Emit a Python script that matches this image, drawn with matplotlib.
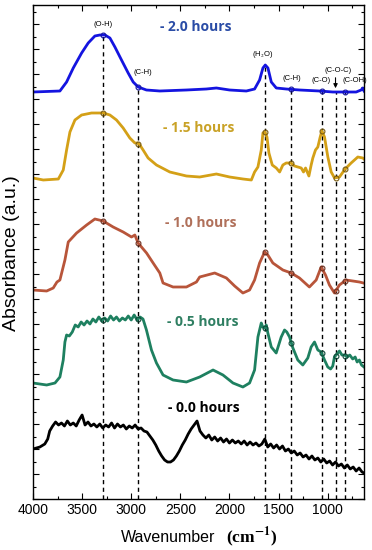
from __future__ import annotations

import matplotlib

matplotlib.use("Agg")
import matplotlib.pyplot as plt
import numpy as np
from matplotlib.ticker import MultipleLocator, NullFormatter

plt.rcParams["font.family"] = ["Liberation Sans", "DejaVu Sans"]
plt.rcParams["mathtext.fontset"] = "stix"

# ---- data (wavenumber in cm^-1, absorbance in arbitrary units, stacked) ----
blue_wn = [4000, 3726, 3658, 3590, 3505, 3438, 3370, 3319, 3268, 3217, 3166, 3099,
           3031, 2980, 2929, 2845, 2709, 2438, 2235, 2133, 1998, 1828, 1744, 1693,
           1659, 1635, 1608, 1574, 1523, 1422, 1286, 1083, 947, 812, 710, 659, 642, 630]
blue_abs = [4.07, 4.08, 4.17, 4.31, 4.46, 4.56, 4.63, 4.64, 4.64, 4.61, 4.52, 4.39,
            4.26, 4.17, 4.12, 4.09, 4.08, 4.09, 4.10, 4.11, 4.09, 4.08, 4.10, 4.19,
            4.31, 4.34, 4.31, 4.17, 4.11, 4.10, 4.09, 4.08, 4.07, 4.07, 4.07, 4.09, 4.11, 4.08]

orange_wn = [4000, 3895, 3742, 3692, 3658, 3624, 3573, 3505, 3404, 3285, 3217, 3150,
             3082, 3014, 2963, 2936, 2912, 2879, 2828, 2743, 2607, 2438, 2303, 2133,
             1998, 1862, 1777, 1744, 1710, 1676, 1659, 1638, 1618, 1598, 1564, 1523,
             1489, 1456, 1422, 1374, 1337, 1303, 1269, 1246, 1225, 1191, 1168, 1151,
             1124, 1100, 1076, 1059, 1032, 998, 964, 930, 880, 822, 761, 693, 642, 630]
orange_abs = [3.21, 3.19, 3.20, 3.29, 3.49, 3.67, 3.79, 3.84, 3.86, 3.86, 3.84, 3.79,
              3.71, 3.61, 3.56, 3.56, 3.54, 3.49, 3.41, 3.34, 3.27, 3.23, 3.22, 3.25,
              3.22, 3.20, 3.19, 3.27, 3.32, 3.49, 3.66, 3.67, 3.62, 3.46, 3.34, 3.31,
              3.27, 3.34, 3.36, 3.36, 3.33, 3.32, 3.31, 3.27, 3.31, 3.23, 3.34, 3.41,
              3.49, 3.52, 3.62, 3.68, 3.62, 3.42, 3.27, 3.21, 3.22, 3.30, 3.36, 3.42, 3.41, 3.40]

red_wn = [4000, 3861, 3794, 3756, 3726, 3675, 3641, 3556, 3454, 3370, 3286, 3184,
          3082, 2997, 2963, 2930, 2844, 2777, 2709, 2676, 2574, 2438, 2336, 2303,
          2150, 2031, 1947, 1863, 1795, 1744, 1693, 1642, 1609, 1558, 1456, 1371,
          1287, 1186, 1117, 1066, 1022, 982, 931, 880, 812, 677, 636]
red_abs = [2.09, 2.08, 2.11, 2.17, 2.19, 2.39, 2.57, 2.66, 2.74, 2.80, 2.78, 2.72,
           2.67, 2.62, 2.64, 2.56, 2.46, 2.36, 2.26, 2.16, 2.12, 2.12, 2.17, 2.22,
           2.26, 2.21, 2.13, 2.06, 2.09, 2.19, 2.36, 2.47, 2.44, 2.36, 2.29, 2.26,
           2.21, 2.12, 2.19, 2.32, 2.24, 2.14, 2.06, 2.14, 2.19, 2.17, 2.16]

green_wn = [4000, 3861, 3776, 3726, 3692, 3675, 3658, 3630,
            3600, 3570, 3540, 3510, 3480, 3450, 3420, 3390, 3360, 3330, 3300, 3270,
            3240, 3210, 3180, 3150, 3120, 3090, 3060, 3030, 3000, 2970, 2940, 2910, 2880,
            2845, 2794, 2743, 2676, 2574, 2438, 2303, 2167, 2066, 1964, 1863, 1795,
            1744, 1710, 1676, 1660, 1642, 1625, 1609, 1574, 1524, 1473, 1439, 1416,
            1388, 1354, 1304, 1253, 1202, 1168, 1134, 1100, 1066, 1032,
            999, 970, 948, 931, 905, 880, 855, 829, 800, 775, 745, 720, 700, 677, 655, 630]
green_abs = [1.16, 1.14, 1.16, 1.22, 1.39, 1.57, 1.64, 1.63,
             1.67, 1.74, 1.72, 1.77, 1.74, 1.78, 1.75, 1.80, 1.77, 1.82, 1.78, 1.81,
             1.78, 1.83, 1.79, 1.82, 1.78, 1.81, 1.79, 1.83, 1.79, 1.84, 1.79, 1.82, 1.80,
             1.69, 1.49, 1.36, 1.24, 1.19, 1.17, 1.22, 1.29, 1.24, 1.16, 1.12, 1.16,
             1.29, 1.62, 1.76, 1.72, 1.71, 1.74, 1.66, 1.52, 1.46, 1.62, 1.69, 1.67,
             1.62, 1.51, 1.39, 1.34, 1.41, 1.52, 1.57, 1.49, 1.47, 1.39,
             1.32, 1.30, 1.33, 1.42, 1.45, 1.48, 1.44, 1.44, 1.42, 1.44, 1.40, 1.42, 1.37, 1.39, 1.34, 1.32]

black_wn_start = [4000, 3930, 3880, 3850, 3830]
black_abs_start = [0.50, 0.52, 0.55, 0.60, 0.68]
black_wn_grid = np.arange(3800, 620, -30)  # 3800 ... 650
black_abs_grid = [
    0.73, 0.77, 0.74, 0.76, 0.73, 0.78, 0.74, 0.76, 0.73, 0.79,
    0.84, 0.74, 0.77, 0.73, 0.75, 0.72, 0.75, 0.71, 0.74, 0.72,
    0.76, 0.71, 0.75, 0.72, 0.74, 0.70, 0.73, 0.71, 0.74, 0.70,
    0.71, 0.68, 0.67, 0.63, 0.59, 0.54, 0.48, 0.43, 0.39, 0.37,
    0.37, 0.39, 0.43, 0.48, 0.54, 0.59, 0.65, 0.70, 0.74, 0.78,
    0.68, 0.64, 0.61, 0.64, 0.59, 0.62, 0.58, 0.61, 0.57, 0.60,
    0.56, 0.59, 0.56, 0.58, 0.55, 0.58, 0.54, 0.57, 0.54, 0.56,
    0.53, 0.55, 0.60, 0.52, 0.55, 0.51, 0.54, 0.50, 0.53, 0.48,
    0.50, 0.46, 0.48, 0.44, 0.46, 0.42, 0.44, 0.40, 0.43, 0.39,
    0.41, 0.37, 0.40, 0.36, 0.38, 0.34, 0.37, 0.33, 0.35, 0.31,
    0.34, 0.30, 0.32, 0.28, 0.31, 0.27,
]

band_wn = [3290, 2930, 1640, 1370, 1060, 920, 820]
band_labels = ["(O-H)", "(C-H)", "(H$_2$O)", "(C-H)", "(C-O)", "(C-O-C)", "(C-OH)"]
band_label_x = [3289, 2882, 1663, 1368, 1063, 890, 727]
band_label_y = [4.74, 4.27, 4.45, 4.20, 4.18, 4.29, 4.18]

series_labels = ["- 2.0 hours", "- 1.5 hours", "- 1.0 hours", "- 0.5 hours", "- 0.0 hours"]
series_label_x = [2343, 2313, 2293, 2272, 2262]
series_label_y = [4.72, 3.71, 2.76, 1.77, 0.91]


def _marker_values(wn: list[float], vals: list[float], at: list[float]) -> np.ndarray:
    x = np.asarray(wn, dtype=float)[::-1]
    y = np.asarray(vals, dtype=float)[::-1]
    return np.interp(at, x, y)


def main() -> None:
    fig = plt.figure(figsize=(3.72, 5.5), dpi=100)
    ax = fig.add_axes([33 / 372, 51 / 550, 331 / 372, 494 / 550])

    black_wn = np.concatenate([black_wn_start, black_wn_grid, [630]])
    black_abs = np.concatenate([black_abs_start, black_abs_grid, [0.26]])

    curves = [
        (blue_wn, blue_abs, "#1414e0", "#2a4ca6", "#1414a0", [3290, 2930, 1370, 1060, 820]),
        (orange_wn, orange_abs, "#d4a017", "#c9a227", "#7a5c10", band_wn),
        (red_wn, red_abs, "#b8553a", "#b0705a", "#6e3020", band_wn),
        (green_wn, green_abs, "#1e8060", "#2f7f62", "#0e4a38", band_wn),
        (black_wn, black_abs, "#000000", "#000000", "#000000", []),
    ]

    # dashed guide lines from the top spectrum down to the axis
    tops = _marker_values(blue_wn, blue_abs, band_wn)
    ax.vlines(band_wn, 0, tops, colors="black", linestyles=(0, (3, 2.5)), linewidth=1.0, zorder=1)

    for (wn, vals, color, text_color, mark_color, marks), label, lx, ly in zip(
        curves, series_labels, series_label_x, series_label_y
    ):
        ax.plot(wn, vals, color=color, linewidth=2.0, zorder=2)
        if marks:
            ax.plot(marks, _marker_values(wn, vals, marks), linestyle="none", marker="o",
                    markersize=3.5, markerfacecolor="none", markeredgecolor=mark_color,
                    markeredgewidth=0.8, zorder=3)
        ax.text(lx, ly, label, color=text_color, fontsize=10, fontweight="bold",
                family=["Open Sans", "DejaVu Sans"], ha="center", va="center")

    for wn, text, x, y in zip(band_wn, band_labels, band_label_x, band_label_y):
        ax.text(x, y, text, fontsize=5.5, ha="center", va="center", clip_on=False)

    # arrow for the C-O-C band
    ax.annotate("", xy=(920, 4.08), xytext=(920, 4.24),
                arrowprops=dict(arrowstyle="-|>", color="black", lw=0.8, mutation_scale=6))

    ax.set_xlim(4000, 630)
    ax.set_ylim(0, 4.94)
    ax.xaxis.set_major_locator(MultipleLocator(500))
    ax.xaxis.set_minor_locator(MultipleLocator(250))
    ax.yaxis.set_major_locator(MultipleLocator(0.25))
    ax.yaxis.set_minor_locator(MultipleLocator(0.125))
    ax.yaxis.set_major_formatter(NullFormatter())
    ax.tick_params(which="both", direction="in", top=True, right=True, labelsize=10, pad=3)
    ax.tick_params(which="major", length=4, width=0.8)
    ax.tick_params(which="minor", length=2.5, width=0.8)
    for spine in ax.spines.values():
        spine.set_linewidth(1.0)

    fig.text(12 / 372, 1 - 253 / 550, "Absorbance (a.u.)", rotation=90, fontsize=14,
             ha="center", va="center")
    fig.text(168 / 372, 1 - 537 / 550, "Wavenumber", fontsize=11.5, ha="center", va="center")
    fig.text(252 / 372, 1 - 537 / 550, r"(cm$^{\mathbf{-1}}$)", fontsize=12.5, fontweight="bold",
             family="Liberation Serif", ha="center", va="center")

    fig.savefig("out.png", dpi=100)
    plt.close(fig)


if __name__ == "__main__":
    main()
